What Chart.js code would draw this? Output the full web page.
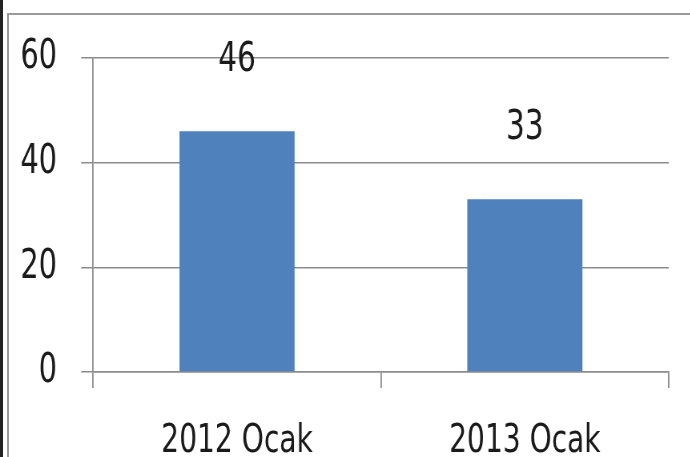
<!DOCTYPE html>
<html>
<head>
<meta charset="utf-8">
<script src="https://cdn.jsdelivr.net/npm/chart.js@4.4.0/dist/chart.umd.min.js"></script>
<style>
  html, body { margin: 0; padding: 0; background: #fff; }
  #frame { position: relative; width: 690px; height: 457px; overflow: hidden; }
  #edge { position: absolute; left: 0; top: 0; width: 3px; height: 457px; background: #222; }
  #box { position: absolute; left: 7px; top: 13px; width: 700px; height: 460px;
         border-left: 2px solid #9a9a9a; border-top: 2px solid #9a9a9a; }
  /* the original text is tall and narrow, so the chart is drawn wider and squeezed */
  #wrap { position: absolute; left: 0; top: 0; width: 862.5px; height: 457px;
          transform: scaleX(0.8); transform-origin: 0 0; }
</style>
</head>
<body>
<div id="frame">
  <div id="edge"></div>
  <div id="box"></div>
  <div id="wrap"><canvas id="canvas"></canvas></div>
</div>
<script>
var categories = ['2012 Ocak', '2013 Ocak']
var values = [46, 33]
var yTicks = [0, 20, 40, 60]

const squeeze = 0.8
const fontFamily = "'DejaVu Sans Condensed', sans-serif"

// value labels above each bar
var barLabels = {
    id: 'barLabels',
    afterDatasetsDraw(chart) {
        var ctx = chart.ctx
        var meta = chart.getDatasetMeta(0)
        ctx.save()
        ctx.font = '41px ' + fontFamily
        ctx.fillStyle = '#1a1a1a'
        ctx.textAlign = 'center'
        ctx.textBaseline = 'middle'
        meta.data.forEach(function(bar, i) {
            ctx.fillText(values[i], bar.x, bar.y - 71)
        })
        ctx.restore()
    }
}

var ctx = document.getElementById('canvas').getContext('2d')
var config = {
    type: 'bar',
    data: {
        labels: categories,
        datasets: [{
            data: values,
            backgroundColor: '#4f81bd',
            borderWidth: 0,
            barPercentage: 0.4,
            categoryPercentage: 1
        }]
    },
    options: {
        responsive: true,
        maintainAspectRatio: false,
        animation: false,
        layout: { padding: { left: 0, right: 22 / squeeze, top: 58, bottom: 0 } },
        plugins: {
            legend: { display: false },
            tooltip: { enabled: false }
        },
        scales: {
            x: {
                grid: {
                    offset: true,
                    drawOnChartArea: false,
                    drawTicks: true,
                    tickLength: 16,
                    color: '#8c8c8c',
                    lineWidth: 1.8
                },
                border: { color: '#8c8c8c', width: 1.5 },
                ticks: {
                    color: '#1a1a1a',
                    padding: 30,
                    font: { family: fontFamily, size: 39 }
                },
                afterFit: function(scale) { scale.height = 85 }
            },
            y: {
                min: 0,
                max: 60,
                afterBuildTicks: function(scale) {
                    scale.ticks = yTicks.map(function(v) { return { value: v } })
                },
                grid: {
                    color: '#8c8c8c',
                    lineWidth: 1.5,
                    tickLength: 12 / squeeze
                },
                border: { color: '#8c8c8c', width: 1.8 },
                ticks: {
                    color: '#1a1a1a',
                    padding: 24 / squeeze,
                    font: { family: fontFamily, size: 40 }
                },
                afterFit: function(scale) { scale.width = 93 / squeeze }
            }
        }
    },
    plugins: [barLabels]
}

var mychart = new Chart(ctx, config)
</script>
</body>
</html>
